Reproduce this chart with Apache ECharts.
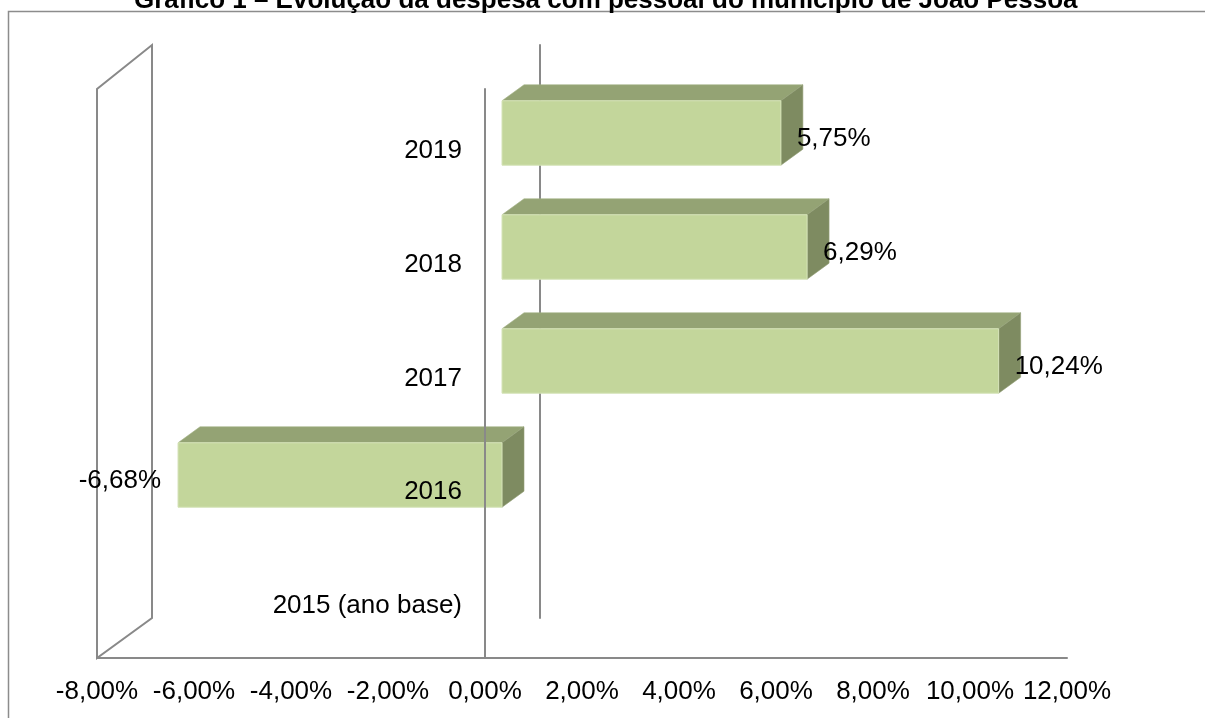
<!DOCTYPE html>
<html style="height:100%">
<head>
    <meta charset="utf-8">
    <script type="text/javascript" src="https://cdn.jsdelivr.net/npm/echarts@6/dist/echarts.min.js"></script>
    <title>Gráfico 1</title>
</head>
<body style="height: 100%; margin: 0; background: #fff">
    <div id="container" style="width:1205px; height:718px"></div>
    <script type="text/javascript">
    // categorias (anos) e variação da despesa com pessoal (%)
    const categories = ['2015 (ano base)', '2016', '2017', '2018', '2019'];
    const variation = [0, -6.68, 10.24, 6.29, 5.75];

    // eixo de valores
    const axisMin = -8;
    const axisMax = 12;
    const axisStep = 2;

    const FONT = "'Liberation Sans', Arial, sans-serif";
    const LINE = '#898989';

    // planos do "3D": frente (rótulos), barras, fundo
    const front = { left: 97, top: 89, right: 1067, bottom: 658 };
    const mid = { left: 114, top: 76, right: 1084, bottom: 646 };
    const back = { left: 152, top: 45, right: 1122, bottom: 618 };
    const H = 718, W = 1205;
    const gridOf = r => ({
        left: r.left, top: r.top, width: r.right - r.left, height: r.bottom - r.top,
        containLabel: false, outerBoundsMode: 'none'
    });
    // deslocamento do eixo de categorias até o valor 0
    const zeroShift = r => -(r.right - r.left) * (0 - axisMin) / (axisMax - axisMin);

    const fmt = v => v.toFixed(2).replace('.', ',') + '%';

    var myChart = echarts.init(document.getElementById('container'));

    const valueAxis = (idx, extra) => Object.assign({
        type: 'value', gridIndex: idx, min: axisMin, max: axisMax, interval: axisStep,
        splitLine: { show: false }, axisTick: { show: false }
    }, extra);

    var option = {
        animation: false,
        title: {
            text: 'Gráfico 1 – Evolução da despesa com pessoal do município de João Pessoa',
            left: 129,
            top: -17,
            textStyle: { fontFamily: FONT, fontSize: 26, fontWeight: 'bold', color: '#000', lineHeight: 26 }
        },
        grid: [gridOf(front), gridOf(mid), gridOf(back)],
        xAxis: [
            valueAxis(0, {
                axisLine: { show: true, lineStyle: { color: LINE, width: 2 } },
                axisLabel: { fontFamily: FONT, fontSize: 26, color: '#000', margin: 21, formatter: fmt,
                             showMinLabel: true, showMaxLabel: true, hideOverlap: false }
            }),
            valueAxis(1, { show: false }),
            valueAxis(2, { show: false })
        ],
        yAxis: [
            {
                type: 'category', gridIndex: 0, data: categories, z: 10,
                position: 'left', offset: zeroShift(front),
                axisLine: { show: true, onZero: false, lineStyle: { color: LINE, width: 2 } },
                axisTick: { show: false },
                axisLabel: { fontFamily: FONT, fontSize: 26, color: '#000', margin: 23,
                             verticalAlign: 'top', lineHeight: 10 }
            },
            { type: 'category', gridIndex: 1, data: categories, show: false },
            {
                type: 'category', gridIndex: 2, data: categories,
                position: 'left', offset: zeroShift(back),
                axisLine: { show: true, onZero: false, lineStyle: { color: LINE, width: 2 } },
                axisTick: { show: false }, axisLabel: { show: false }
            }
        ],
        series: [{
            type: 'custom',
            xAxisIndex: 1,
            yAxisIndex: 1,
            z: 5,
            encode: { x: 0, y: 1 },
            data: variation.map((v, i) => [v, i]),
            renderItem: function(params, api) {
                var v = api.value(0);
                var cat = api.value(1);
                if (!v) return;   // ano base: sem barra
                var p0 = api.coord([0, cat]);
                var p1 = api.coord([v, cat]);
                var h = api.size([0, 1])[1] * 0.565;
                var x0 = Math.min(p0[0], p1[0]);
                var x1 = Math.max(p0[0], p1[0]);
                var yT = p0[1] - h / 2;
                var yB = p0[1] + h / 2;
                var dx = 22, dy = -16;
                var lab = v > 0
                    ? { x: x1 + 16, align: 'left' }
                    : { x: x0 - 17, align: 'right' };
                return {
                    type: 'group',
                    children: [
                        {
                            type: 'polygon',
                            shape: { points: [[x0, yT], [x0 + dx, yT + dy], [x1 + dx, yT + dy], [x1, yT]] },
                            style: { fill: '#94A374', stroke: '#A3B186', lineWidth: 0.6 }
                        },
                        {
                            type: 'polygon',
                            shape: { points: [[x1, yT], [x1 + dx, yT + dy], [x1 + dx, yB + dy], [x1, yB]] },
                            style: { fill: '#7E8B61', stroke: '#93A077', lineWidth: 0.6 }
                        },
                        {
                            type: 'rect',
                            shape: { x: x0, y: yT, width: x1 - x0, height: h },
                            style: { fill: '#C3D69B', stroke: '#D5E3B8', lineWidth: 1 }
                        },
                        {
                            type: 'text',
                            z2: 20,
                            style: {
                                text: fmt(v), x: lab.x, y: p0[1] + 6,
                                align: lab.align, verticalAlign: 'middle',
                                font: '26px ' + FONT, fill: '#000'
                            }
                        }
                    ]
                };
            }
        }],
        graphic: [
            {
                // moldura do gráfico
                type: 'rect', silent: true,
                shape: { x: 8.5, y: 11.5, width: W + 100, height: H + 100 },
                style: { fill: null, stroke: '#8C8C8C', lineWidth: 1.5 }
            },
            {
                // parede lateral (eixo das categorias)
                type: 'polygon', silent: true,
                shape: { points: [
                    [front.left, front.bottom], [front.left, front.top],
                    [back.left, back.top], [back.left, back.bottom]
                ] },
                style: { fill: null, stroke: LINE, lineWidth: 2 }
            }
        ]
    };

    myChart.setOption(option);
    </script>
</body>
</html>
